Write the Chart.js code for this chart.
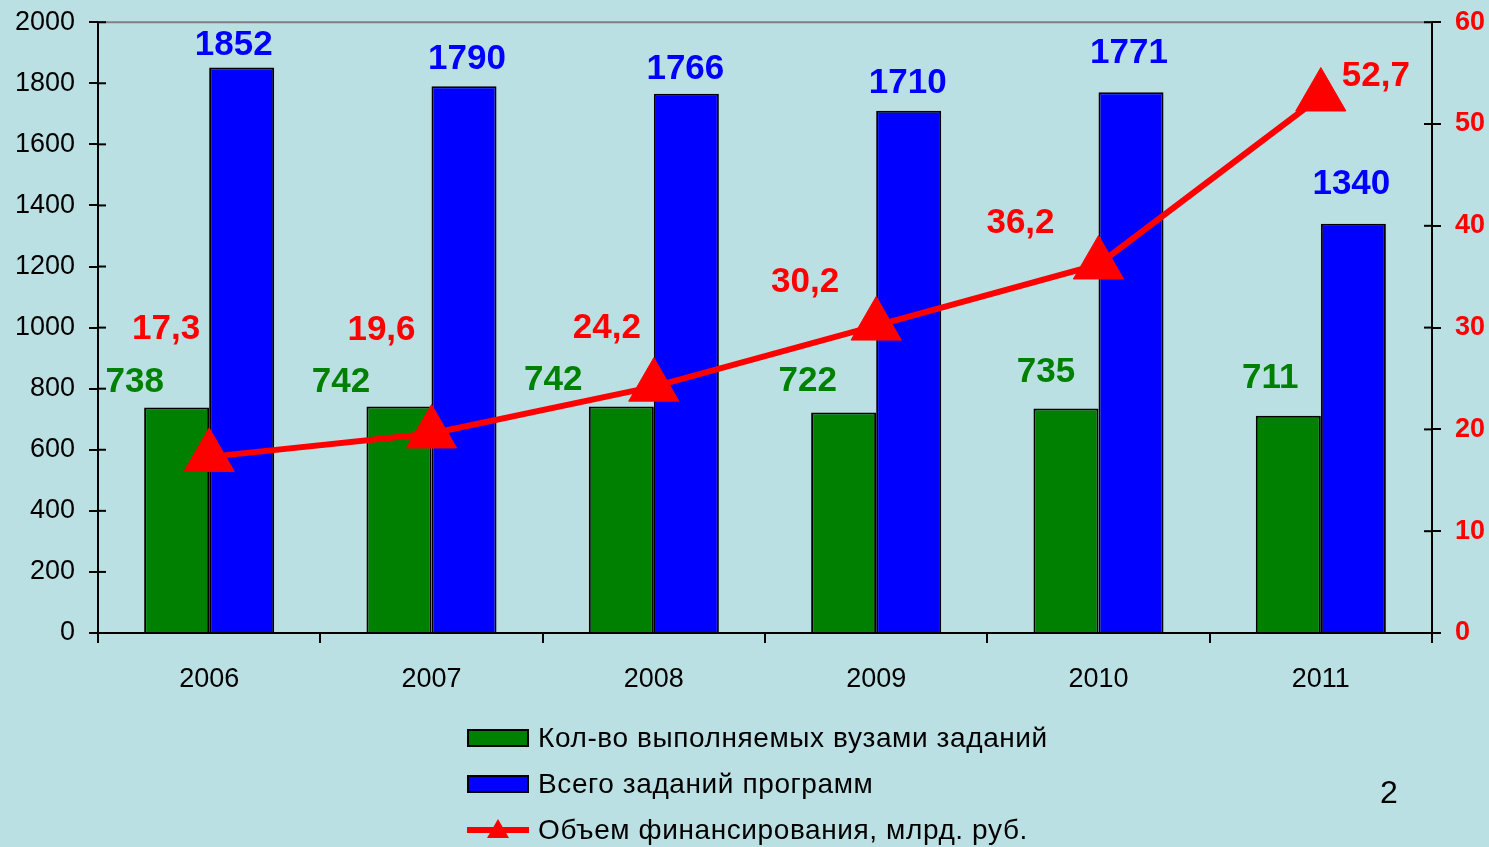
<!DOCTYPE html>
<html>
<head>
<meta charset="utf-8">
<script src="https://cdn.jsdelivr.net/npm/chart.js@4/dist/chart.umd.min.js"></script>
<style>
html, body { margin: 0; padding: 0; background: #bbe0e3; }
#wrap { position: relative; width: 1489px; height: 847px; overflow: hidden; font-family: "Liberation Sans", Arial, sans-serif; }
#chart { position: absolute; left: 0; top: -8px; }
.item { position: absolute; left: 467px; height: 30px; line-height: 30px; font-size: 28px; letter-spacing: 0.6px; color: #000; white-space: nowrap; }
.item svg { position: absolute; left: 0; top: 0; }
.item span { position: absolute; left: 71px; top: 0; }
#page { position: absolute; left: 1380px; top: 774px; font-size: 32px; color: #000; }
</style>
</head>
<body>
<div id="wrap">
  <canvas id="chart" width="1489" height="855"></canvas>
  <div class="item" style="top:723px">
    <svg width="62" height="30"><rect x="1" y="7" width="60" height="16" fill="#008000" stroke="#000" stroke-width="2"/></svg>
    <span>Кол-во выполняемых вузами заданий</span>
  </div>
  <div class="item" style="top:769px">
    <svg width="62" height="30"><rect x="1" y="7" width="60" height="16" fill="#0000ff" stroke="#000" stroke-width="2"/></svg>
    <span>Всего заданий программ</span>
  </div>
  <div class="item" style="top:815px">
    <svg width="62" height="30"><line x1="0" y1="15" x2="62" y2="15" stroke="#ff0000" stroke-width="6"/><polygon points="31,4 42,23 20,23" fill="#ff0000"/></svg>
    <span>Объем финансирования, млрд. руб.</span>
  </div>
  <div id="page">2</div>
</div>
<script>
// данные
const years = ['2006', '2007', '2008', '2009', '2010', '2011'];
const doneTasks = [738, 742, 742, 722, 735, 711];
const totalTasks = [1852, 1790, 1766, 1710, 1771, 1340];
const funding = [17.3, 19.6, 24.2, 30.2, 36.2, 52.7];

// сдвиг подписей относительно столбца / точки (dx, dy)
const doneNudge = [[-42, -25], [-58, -24], [-68, -26], [-36, -31], [-20, -36], [-18, -38]];
const totalNudge = [[-8, -22], [3, -27], [-1, -24], [-1, -27], [-2, -39], [-2, -39]];
const fundNudge = [[-43, -128], [-50, -103], [-47, -58], [-71, -43], [-78, -41], [55, -20]];

const FONT = '"Liberation Sans", Arial, sans-serif';

// подписи значений
const valueLabels = {
  id: 'valueLabels',
  afterDatasetsDraw(chart) {
    const ctx = chart.ctx;
    ctx.save();
    ctx.font = 'bold 35px ' + FONT;
    ctx.textAlign = 'center';
    ctx.textBaseline = 'middle';
    chart.data.datasets.forEach((ds, i) => {
      const meta = chart.getDatasetMeta(i);
      meta.data.forEach((el, j) => {
        const n = ds.nudge[j];
        ctx.fillStyle = ds.labelColor;
        ctx.fillText(ds.fmt(ds.data[j]), el.x + n[0], el.y + n[1]);
      });
    });
    ctx.restore();
  }
};

// верхняя рамка и внутренние засечки осей
const axisExtras = {
  id: 'axisExtras',
  beforeDatasetsDraw(chart) {
    const ctx = chart.ctx;
    const a = chart.chartArea;
    ctx.save();
    ctx.strokeStyle = '#808080';
    ctx.lineWidth = 2;
    ctx.beginPath();
    ctx.moveTo(a.left, a.top);
    ctx.lineTo(a.right, a.top);
    ctx.stroke();
    ctx.strokeStyle = '#000';
    ['y', 'y1'].forEach(id => {
      const s = chart.scales[id];
      s.ticks.forEach((t, k) => {
        const py = s.getPixelForTick(k);
        ctx.beginPath();
        if (id === 'y') { ctx.moveTo(a.left, py); ctx.lineTo(a.left + 8, py); }
        else { ctx.moveTo(a.right, py); ctx.lineTo(a.right - 8, py); }
        ctx.stroke();
      });
    });
    ctx.restore();
  }
};

const data = {
  labels: years,
  datasets: [
    {
      type: 'line',
      label: 'Объем финансирования, млрд. руб.',
      data: funding,
      yAxisID: 'y1',
      order: 0,
      borderColor: '#ff0000',
      backgroundColor: '#ff0000',
      borderWidth: 6,
      pointStyle: 'triangle',
      pointRadius: 29,
      pointHoverRadius: 29,
      pointBorderWidth: 1,
      tension: 0,
      labelColor: '#ff0000',
      nudge: fundNudge,
      fmt: v => v.toFixed(1).replace('.', ',')
    },
    {
      type: 'bar',
      label: 'Кол-во выполняемых вузами заданий',
      data: doneTasks,
      yAxisID: 'y',
      order: 1,
      backgroundColor: '#008000',
      borderColor: '#000',
      borderWidth: 2,
      categoryPercentage: 0.585,
      barPercentage: 1,
      labelColor: '#008000',
      nudge: doneNudge,
      fmt: v => String(v)
    },
    {
      type: 'bar',
      label: 'Всего заданий программ',
      data: totalTasks,
      yAxisID: 'y',
      order: 2,
      backgroundColor: '#0000ff',
      borderColor: '#000',
      borderWidth: 2,
      categoryPercentage: 0.585,
      barPercentage: 1,
      labelColor: '#0000ff',
      nudge: totalNudge,
      fmt: v => String(v)
    }
  ]
};

const config = {
  data: data,
  plugins: [axisExtras, valueLabels],
  options: {
    responsive: false,
    animation: false,
    devicePixelRatio: 1,
    layout: { padding: { top: 12, bottom: 0, left: 0, right: 0 } },
    plugins: { legend: { display: false }, tooltip: { enabled: false } },
    scales: {
      x: {
        grid: { drawOnChartArea: false, tickLength: 10, color: '#000', lineWidth: 2 },
        border: { display: true, color: '#000', width: 2 },
        ticks: { color: '#000', font: { family: FONT, size: 27 }, padding: 20 },
        afterFit(s) { s.height = 214; }
      },
      y: {
        position: 'left',
        min: 0,
        max: 2000,
        grid: { drawOnChartArea: false, tickLength: 9, color: '#000', lineWidth: 2 },
        border: { display: true, color: '#000', width: 2 },
        ticks: { stepSize: 200, color: '#000', font: { family: FONT, size: 27 }, padding: 14, callback: v => String(v) },
        afterFit(s) { s.width = 98; }
      },
      y1: {
        position: 'right',
        min: 0,
        max: 60,
        grid: { drawOnChartArea: false, tickLength: 9, color: '#000', lineWidth: 2 },
        border: { display: true, color: '#000', width: 2 },
        ticks: { stepSize: 10, color: '#ff0000', font: { family: FONT, size: 27, weight: 'bold' }, padding: 14, callback: v => String(v) },
        afterFit(s) { s.width = 57; }
      }
    }
  }
};

new Chart(document.getElementById('chart'), config);
</script>
</body>
</html>
